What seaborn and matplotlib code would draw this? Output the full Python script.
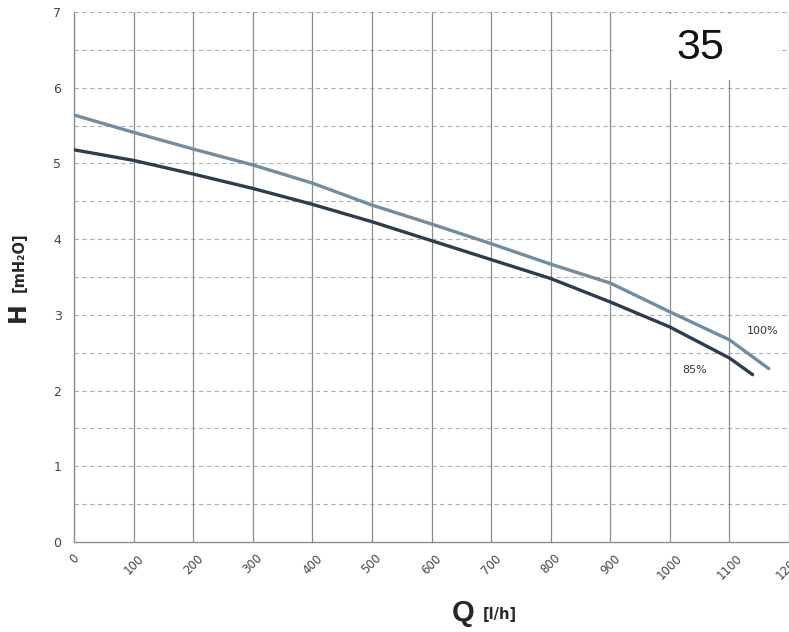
import matplotlib
matplotlib.use("Agg")
import matplotlib.pyplot as plt
import seaborn as sns
import pandas as pd
import numpy as np

# pump curves
flow_100 = [0, 100, 200, 300, 400, 500, 600, 700, 800, 900, 1000, 1100, 1166]
head_100 = [5.64, 5.41, 5.19, 4.98, 4.74, 4.45, 4.20, 3.94, 3.67, 3.42, 3.04, 2.67, 2.29]
flow_85 = [0, 100, 200, 300, 400, 500, 600, 700, 800, 900, 1000, 1100, 1139]
head_85 = [5.18, 5.04, 4.86, 4.67, 4.46, 4.23, 3.98, 3.73, 3.48, 3.17, 2.84, 2.43, 2.21]
x_ticks = [0, 100, 200, 300, 400, 500, 600, 700, 800, 900, 1000, 1100, 1200]
y_ticks = [0, 1, 2, 3, 4, 5, 6, 7]

df = pd.concat([
    pd.DataFrame({"Q": flow_100, "H": head_100, "speed": "100%"}),
    pd.DataFrame({"Q": flow_85, "H": head_85, "speed": "85%"}),
])

sns.set_style("white")
fig = plt.figure(figsize=(7.89, 6.32), dpi=100)
ax = fig.add_axes([74 / 789, 1 - 542 / 632, 1 - 74 / 789, 530 / 632])

# grid first so curves sit on top
for y in np.arange(0.5, 7.01, 0.5):
    ax.axhline(y, color="#b0b0b0", lw=0.8, ls=(0, (4, 3)), zorder=0)
for x in x_ticks[1:]:
    ax.axvline(x, color="#8c8c8c", lw=0.9, zorder=0)

# white box behind the "35" label
ax.add_patch(plt.Rectangle((905, 6.10), 1182 - 905, 0.87, facecolor="white",
                           edgecolor="none", zorder=1))
ax.text(1052, 6.53, "35", fontsize=31, ha="center", va="center", color="#111111",
        family="Liberation Sans", zorder=2)

sns.lineplot(data=df, x="Q", y="H", hue="speed", sort=False, ax=ax,
             palette={"100%": "#6f8ea5", "85%": "#2c3d4f"}, lw=2.4,
             legend=False, zorder=3)

ax.text(1156, 2.79, "100%", fontsize=8, color="#333333", ha="center", va="center")
ax.text(1042, 2.27, "85%", fontsize=8, color="#333333", ha="center", va="center")

ax.set_xlim(0, 1200)
ax.set_ylim(0, 7)
ax.set_xticks(x_ticks)
ax.set_yticks(y_ticks)
ax.set_xticklabels([str(v) for v in x_ticks], rotation=45, ha="center", va="top",
                   fontsize=8.5, color="#444444")
ax.set_yticklabels([str(v) for v in y_ticks], fontsize=9, color="#444444")
ax.tick_params(axis="both", length=5, color="#8c8c8c", pad=4)
ax.tick_params(axis="x", pad=2)
ax.set_xlabel("")
ax.set_ylabel("")
for side in ["top", "right"]:
    ax.spines[side].set_visible(False)
for side in ["left", "bottom"]:
    ax.spines[side].set_color("#8c8c8c")
    ax.spines[side].set_linewidth(1)

# axis titles
fig.text(18 / 789, 1 - 312 / 632, "H", fontsize=17, fontweight="bold",
         rotation=90, ha="center", va="center")
fig.text(19 / 789, 1 - 262 / 632, "[mH\u2082O]", fontsize=10.5, fontweight="bold",
         rotation=90, ha="center", va="center")
fig.text(463 / 789, 1 - 613 / 632, "Q", fontsize=21, fontweight="bold",
         ha="center", va="center", family="Liberation Sans")
fig.text(500 / 789, 1 - 615 / 632, "[l/h]", fontsize=10.5, fontweight="bold",
         ha="center", va="center")

fig.savefig("out.png", dpi=100)
